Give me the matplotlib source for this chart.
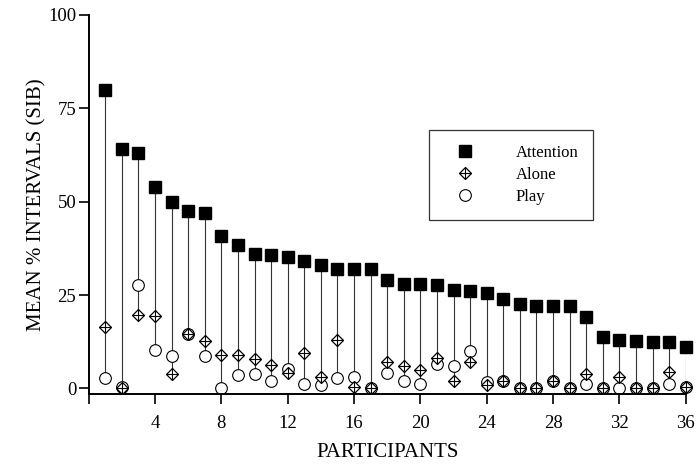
import matplotlib
matplotlib.use("Agg")
import matplotlib.pyplot as plt
import numpy as np
from matplotlib.lines import Line2D

participants = list(range(1, 37))
attention = [80, 64, 63, 54, 50, 47.6, 46.9, 40.8, 38.3, 35.9, 35.8, 35.2, 34, 33, 32, 32, 32,
             29, 28, 28, 27.8, 26.4, 26.1, 25.5, 24, 22.6, 22.2, 22, 22, 19, 13.7, 13, 12.7,
             12.3, 12.3, 11.2]
alone = [16.5, 0.2, 19.7, 19.4, 3.8, 14.7, 12.8, 8.9, 8.9, 8.0, 6.3, 4.0, 9.6, 3.1, 13, 0.3, 0,
         7.1, 6.0, 4.9, 8.1, 2.0, 7.0, 0.9, 2.0, 0.2, 0.1, 2.1, 0.1, 3.8, 0.2, 3.1, 0.2,
         0.2, 4.3, 0.4]
play = [2.7, 0.5, 27.7, 10.3, 8.8, 14.7, 8.8, 0, 3.6, 3.9, 2.0, 5.2, 1.2, 0.9, 2.9, 3.1, 0,
        4.0, 2.0, 1.1, 6.5, 6.1, 10.0, 1.8, 2.0, 0.2, 0.1, 2.1, 0.1, 1.3, 0.2, 0.0, 0.2,
        0.2, 1.3, 0.4]
yticks = [0, 25, 50, 75, 100]
xticks = [0, 4, 8, 12, 16, 20, 24, 28, 32, 36]
xticklabels = ["", "4", "8", "12", "16", "20", "24", "28", "32", "36"]

plt.rcParams['font.family'] = ['Liberation Serif', 'DejaVu Serif']

fig = plt.figure(figsize=(6.96, 4.67), dpi=100)
ax = fig.add_axes([0.1274, 0.1563, 0.8578, 0.8116])

x = np.array(participants)
att = np.array(attention)
aln = np.array(alone)
ply = np.array(play)
low = np.minimum(aln, ply)
ax.vlines(x, low, att, colors="#333333", linewidth=0.8, zorder=1)

ax.plot(x, ply, linestyle="none", marker="o", markersize=8.4, markerfacecolor="white",
        markeredgecolor="black", markeredgewidth=0.8, clip_on=False, zorder=2)
ax.plot(x, aln, linestyle="none", marker="D", markersize=6.0, markerfacecolor="white",
        markeredgecolor="black", markeredgewidth=0.9, clip_on=False, zorder=3)
ax.plot(x, aln, linestyle="none", marker="+", markersize=8.0, markeredgecolor="black",
        markeredgewidth=0.8, clip_on=False, zorder=4)
ax.plot(x, att, linestyle="none", marker="s", markersize=8.6, markerfacecolor="black",
        markeredgecolor="black", clip_on=False, zorder=5)

ax.set_xlim(0, 36)
ax.set_ylim(-1.5, 100)
ax.set_xticks(xticks)
ax.set_xticklabels(xticklabels)
ax.set_yticks(yticks)
ax.tick_params(direction="out", length=7, width=1.2, labelsize=13.5, pad=2)
ax.tick_params(axis="x", pad=8)
for s in ["top", "right"]:
    ax.spines[s].set_visible(False)
for s in ["left", "bottom"]:
    ax.spines[s].set_linewidth(1.4)

ax.set_ylabel("MEAN % INTERVALS (SIB)", fontsize=15, labelpad=1)
ax.set_xlabel("PARTICIPANTS", fontsize=15, labelpad=8)

h_att = Line2D([], [], linestyle="none", marker="s", markersize=8.6, markerfacecolor="black",
               markeredgecolor="black")
h_aln = (Line2D([], [], linestyle="none", marker="D", markersize=6.0, markerfacecolor="white",
                markeredgecolor="black", markeredgewidth=0.9),
         Line2D([], [], linestyle="none", marker="+", markersize=8.0, markeredgecolor="black",
                markeredgewidth=0.8))
h_ply = Line2D([], [], linestyle="none", marker="o", markersize=8.4, markerfacecolor="white",
               markeredgecolor="black", markeredgewidth=0.8)
leg = ax.legend([h_att, h_aln, h_ply], ["Attention", "Alone", "Play"],
                loc="upper left", bbox_to_anchor=(0.570, 0.6966), fontsize=12,
                frameon=True, fancybox=False, edgecolor="black", handlelength=2.5,
                handletextpad=1.8, borderpad=0.9, labelspacing=0.35, borderaxespad=0)
leg.get_frame().set_linewidth(0.9)

fig.savefig("out.png", dpi=100)
